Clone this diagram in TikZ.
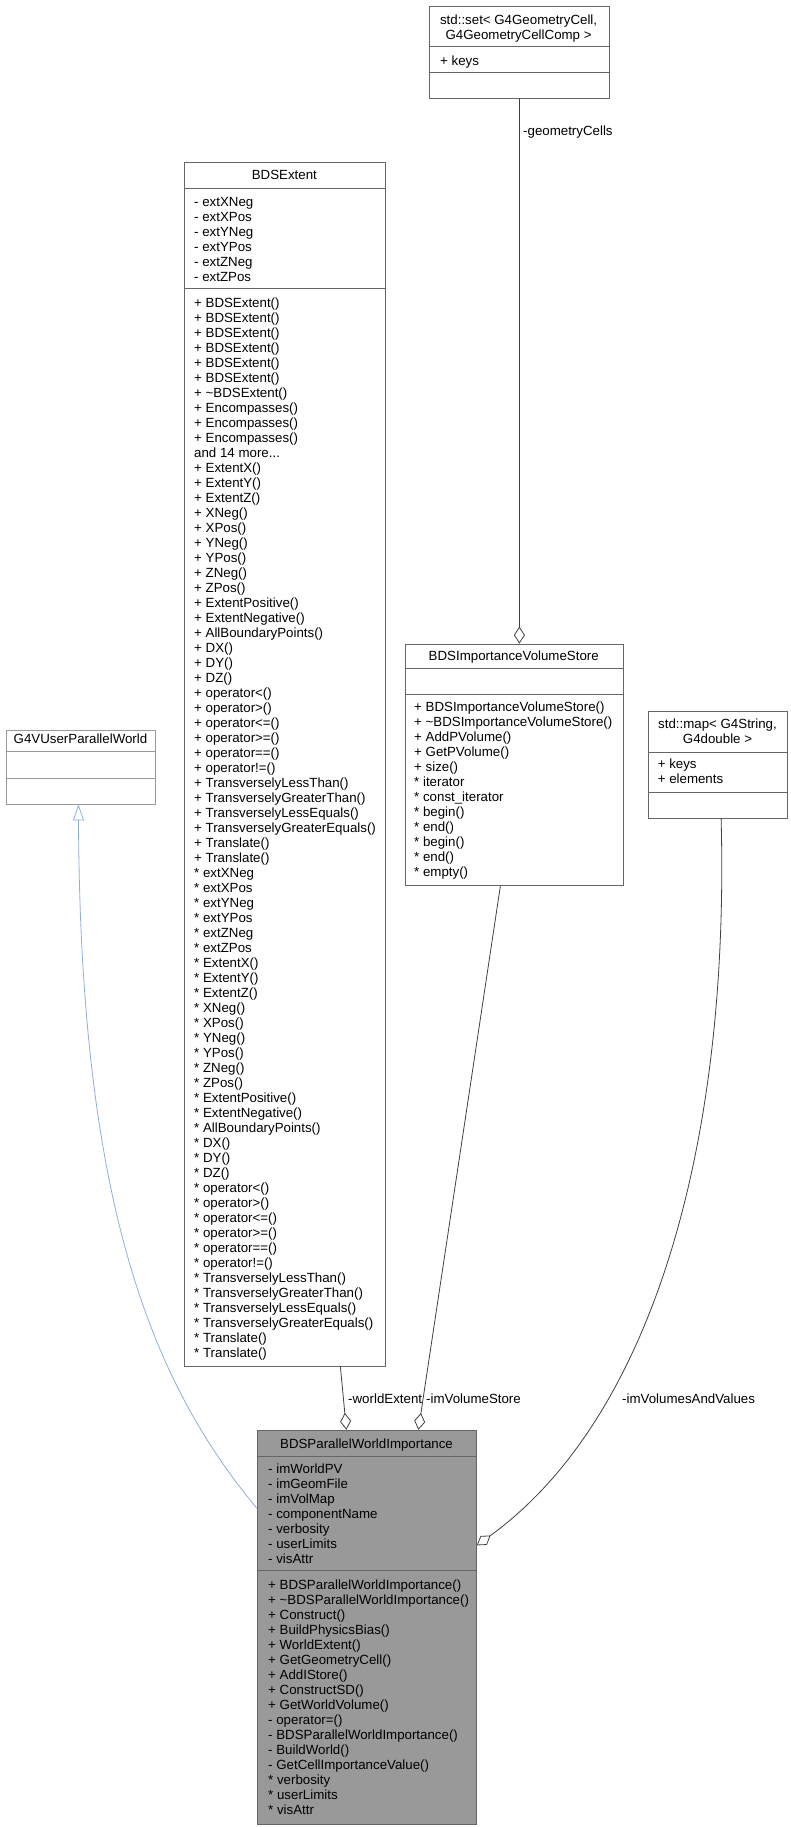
\documentclass[tikz,border=0pt]{standalone}
\usepackage{fontspec}
\setmainfont{Liberation Sans}
\usetikzlibrary{arrows.meta}
\tikzset{
  box/.style={draw=black!60, line width=0.8pt, anchor=north west, inner sep=0pt, fill=white},
  gbox/.style={box, draw=black!40},
  pbox/.style={box, fill=black!40},
  txt/.style={anchor=base west, inner sep=0pt, font=\fontsize{13.3}{15}\selectfont},
  ttl/.style={anchor=base, inner sep=0pt, font=\fontsize{13.3}{15}\selectfont},
  lbl/.style={anchor=base west, inner sep=0pt, font=\fontsize{13.3}{15}\selectfont},
  edge/.style={draw=black!75, line width=0.8pt, -{Diamond[open, length=17pt, width=11pt]}},
  inh/.style={draw=cyan!50!blue!45, line width=0.8pt, -{Triangle[open, length=16pt, width=11pt]}},
}
\def\moretxt{and 14 more...}
\begin{document}
\begin{tikzpicture}[x=1pt,y=-1pt]
\useasboundingbox (0,0) rectangle (791,1827);
% std::set
\node[box, minimum width=180.1pt, minimum height=92pt] (set) at (428.6,5.7) {};
\draw[black!60, line width=0.8pt] (428.6,46.7) -- (608.7,46.7) (428.6,72) -- (608.7,72);
\node[ttl] (setT1) at (518.6,24.5) {std::set< G4GeometryCell,};
\node[ttl] (setT2) at (518.6,39.5) {G4GeometryCellComp >};
\node[txt] (setA) at (440,65.2) {+ keys};
% BDSExtent
\node[box, minimum width=200.7pt, minimum height=1203.2pt] (ext) at (184,162.3) {};
\draw[black!60, line width=0.8pt] (184,188.3) -- (384.7,188.3) (184,288.7) -- (384.7,288.7);
\node[ttl] (extT) at (284.4,179.8) {BDSExtent};
\foreach \t [count=\i] in {- extXNeg,- extXPos,- extYNeg,- extYPos,- extZNeg,- extZPos}
  \node[txt] (extA\i) at (194,{206.2+15*(\i-1)}) {\t};
\foreach \t [count=\i] in {+ BDSExtent(),+ BDSExtent(),+ BDSExtent(),+ BDSExtent(),+ BDSExtent(),+ BDSExtent(),+ \textasciitilde BDSExtent(),+ Encompasses(),+ Encompasses(),+ Encompasses(),\moretxt,+ ExtentX(),+ ExtentY(),+ ExtentZ(),+ XNeg(),+ XPos(),+ YNeg(),+ YPos(),+ ZNeg(),+ ZPos(),+ ExtentPositive(),+ ExtentNegative(),+ AllBoundaryPoints(),+ DX(),+ DY(),+ DZ(),+ operator<(),+ operator>(),+ operator<=(),+ operator>=(),+ operator==(),+ operator!=(),+ TransverselyLessThan(),+ TransverselyGreaterThan(),+ TransverselyLessEquals(),+ TransverselyGreaterEquals(),+ Translate(),+ Translate(),* extXNeg,* extXPos,* extYNeg,* extYPos,* extZNeg,* extZPos,* ExtentX(),* ExtentY(),* ExtentZ(),* XNeg(),* XPos(),* YNeg(),* YPos(),* ZNeg(),* ZPos(),* ExtentPositive(),* ExtentNegative(),* AllBoundaryPoints(),* DX(),* DY(),* DZ(),* operator<(),* operator>(),* operator<=(),* operator>=(),* operator==(),* operator!=(),* TransverselyLessThan(),* TransverselyGreaterThan(),* TransverselyLessEquals(),* TransverselyGreaterEquals(),* Translate(),* Translate()}
  \node[txt] (extM\i) at (194,{307.2+15*(\i-1)}) {\t};
% G4VUserParallelWorld
\node[gbox, minimum width=149.5pt, minimum height=73.6pt] (g4v) at (5.8,730) {};
\draw[black!40, line width=0.8pt] (5.8,751) -- (155.3,751) (5.8,778) -- (155.3,778);
\node[ttl] (g4vT) at (80.5,743.5) {G4VUserParallelWorld};
% BDSImportanceVolumeStore
\node[box, minimum width=217.5pt, minimum height=241.4pt] (store) at (405,643.6) {};
\draw[black!60, line width=0.8pt] (405,668) -- (622.5,668) (405,694) -- (622.5,694);
\node[ttl] (storeT) at (513.75,660.9) {BDSImportanceVolumeStore};
\foreach \t [count=\i] in {+ BDSImportanceVolumeStore(),+ \textasciitilde BDSImportanceVolumeStore(),+ AddPVolume(),+ GetPVolume(),+ size(),* iterator,* const\_iterator,* begin(),* end(),* begin(),* end(),* empty()}
  \node[txt] (storeM\i) at (414,{711.1+15*(\i-1)}) {\t};
% std::map
\node[box, minimum width=139pt, minimum height=106.6pt] (map) at (648,711) {};
\draw[black!60, line width=0.8pt] (648,752) -- (787,752) (648,792) -- (787,792);
\node[ttl] (mapT1) at (717.5,728.5) {std::map< G4String,};
\node[ttl] (mapT2) at (717.5,743.5) {G4double >};
\node[txt] (mapA1) at (657.6,768.5) {+ keys};
\node[txt] (mapA2) at (657.6,783.5) {+ elements};
% BDSParallelWorldImportance
\node[pbox, minimum width=219pt, minimum height=394pt] (pwi) at (257,1429.8) {};
\draw[black!60, line width=0.8pt] (257,1455.9) -- (476,1455.9) (257,1570.8) -- (476,1570.8);
\node[ttl] (pwiT) at (366.5,1448.2) {BDSParallelWorldImportance};
\foreach \t [count=\i] in {- imWorldPV,- imGeomFile,- imVolMap,- componentName,- verbosity,- userLimits,- visAttr}
  \node[txt] (pwiA\i) at (268,{1473.4+15*(\i-1)}) {\t};
\foreach \t [count=\i] in {+ BDSParallelWorldImportance(),+ \textasciitilde BDSParallelWorldImportance(),+ Construct(),+ BuildPhysicsBias(),+ WorldExtent(),+ GetGeometryCell(),+ AddIStore(),+ ConstructSD(),+ GetWorldVolume(),- operator=(),- BDSParallelWorldImportance(),- BuildWorld(),- GetCellImportanceValue(),* verbosity,* userLimits,* visAttr}
  \node[txt] (pwiM\i) at (268,{1589.6+15*(\i-1)}) {\t};
% connectors
\draw[inh] ([yshift=118.8pt]pwi.west) .. controls (150,1380) and (80,1200) .. ([xshift=-2.5pt]g4v.south);
\draw[edge] ([xshift=55.6pt]ext.south) -- ([xshift=-20.5pt]pwi.north);
\draw[edge] ([xshift=-13.75pt]store.south) -- ([xshift=51.5pt]pwi.north);
\draw[edge] ([xshift=0.4pt]set.south) -- ([xshift=5.25pt]store.north);
\draw[edge] ([xshift=3.2pt]map.south) .. controls (730,1150) and (650,1420) .. ([yshift=81.8pt]pwi.east);
\node[lbl] (l1) at (348,1403) {-worldExtent};
\node[lbl] (l2) at (426,1403) {-imVolumeStore};
\node[lbl] (l3) at (622,1403) {-imVolumesAndValues};
\node[lbl] (l4) at (523,135.2) {-geometryCells};
\end{tikzpicture}
\end{document}
